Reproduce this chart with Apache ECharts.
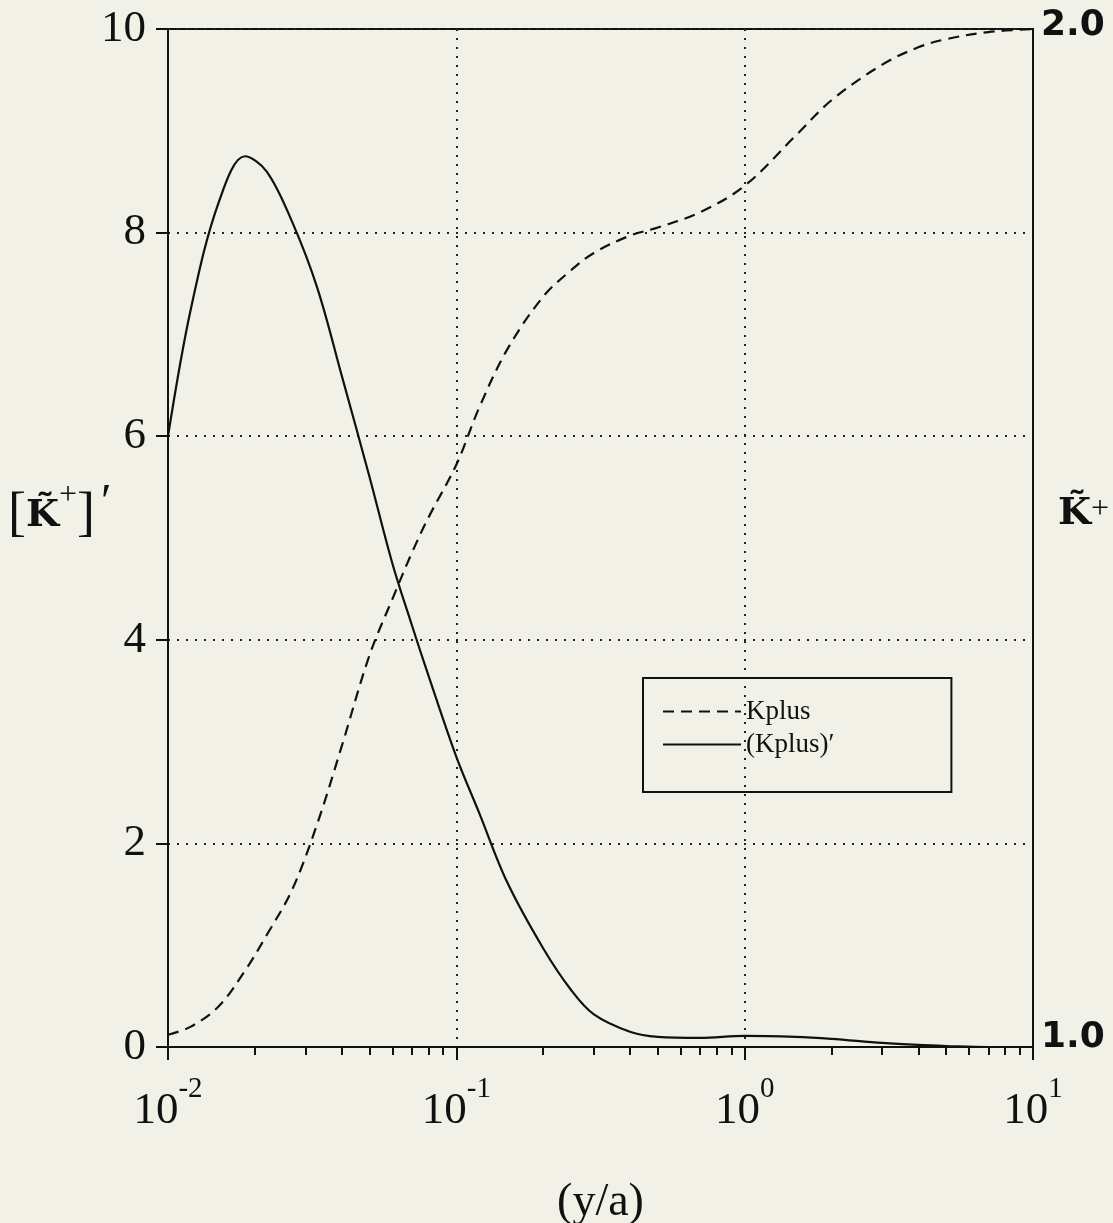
<!DOCTYPE html>
<html>
<head>
<meta charset="utf-8">
<script src="https://cdn.jsdelivr.net/npm/echarts@6/dist/echarts.min.js"></script>
<style>
html,body{margin:0;padding:0;background:#f2f1e7;}
#chart{width:1113px;height:1223px;}
</style>
</head>
<body>
<div id="chart"></div>
<script>
// x positions (y/a)
const xValues = [0.01, 0.012, 0.015, 0.0185, 0.022, 0.027, 0.033, 0.04, 0.05, 0.06, 0.07, 0.08, 0.1, 0.12, 0.15, 0.2, 0.25, 0.3, 0.4, 0.5, 0.7, 1, 1.5, 2, 3, 4, 5, 7, 10];
// (Kplus)' on left axis
const kplusPrime = [6.0, 7.25, 8.3, 8.75, 8.6, 8.1, 7.45, 6.6, 5.6, 4.75, 4.15, 3.65, 2.85, 2.3, 1.62, 0.97, 0.56, 0.32, 0.15, 0.1, 0.09, 0.11, 0.1, 0.08, 0.04, 0.02, 0.01, 0.0, 0.0];
// Kplus on right axis
const kplus = [1.012, 1.02, 1.04, 1.075, 1.11, 1.155, 1.22, 1.295, 1.385, 1.44, 1.485, 1.52, 1.572, 1.628, 1.685, 1.737, 1.763, 1.78, 1.797, 1.805, 1.82, 1.846, 1.895, 1.93, 1.965, 1.982, 1.99, 1.997, 2.0];
const xMajorTicks = [0.01, 0.1, 1, 10];
const xTickExponents = ['-2', '-1', '0', '1'];
const xMinorTicks = [0.02,0.03,0.04,0.05,0.06,0.07,0.08,0.09,0.2,0.3,0.4,0.5,0.6,0.7,0.8,0.9,2,3,4,5,6,7,8,9];
const leftTicks = [0, 2, 4, 6, 8, 10];
const rightTicks = ['1.0', '2.0'];

const chart = echarts.init(document.getElementById('chart'));
const serif = 'Liberation Serif';
const dotted = {color: '#222', width: 2, type: [2, 7]};

chart.setOption({
  backgroundColor: '#f2f1e7',
  animation: false,
  grid: {left: 168, right: 80, top: 29, bottom: 176, show: true, borderColor: '#111', borderWidth: 2,
    backgroundColor: 'transparent', containLabel: false, outerBoundsMode: 'none'},
  legend: {
    orient: 'vertical', left: 643, top: 678,
    padding: [20, 117, 34, 19], itemGap: 6,
    itemWidth: 78, itemHeight: 14,
    borderColor: '#111', borderWidth: 2,
    itemStyle: {opacity: 0},
    textStyle: {fontFamily: serif, fontSize: 27, color: '#111'},
    data: ['Kplus', '(Kplus)′']
  },
  xAxis: [{
    type: 'log', logBase: 10, min: 0.01, max: 10,
    name: '(y/a)', nameLocation: 'middle', nameGap: 133,
    nameTextStyle: {fontFamily: serif, fontSize: 46, color: '#111'},
    axisLine: {lineStyle: {color: '#111', width: 2}},
    axisTick: {show: true, inside: false, length: 13, lineStyle: {color: '#111', width: 2}},
    splitLine: {show: true, lineStyle: dotted},
    axisLabel: {
      margin: 28,
      formatter: function (v) {
        const i = xMajorTicks.findIndex(t => Math.abs(Math.log10(t) - Math.log10(v)) < 1e-6);
        return '{b|10}{s|' + (i >= 0 ? xTickExponents[i] : '') + '}';
      },
      rich: {
        b: {fontFamily: serif, fontSize: 45, color: '#111', verticalAlign: 'bottom', padding: [14, 0, 0, 0]},
        s: {fontFamily: serif, fontSize: 29, color: '#111', verticalAlign: 'top', padding: [0, 0, 16, 0]}
      }
    }
  }, {
    type: 'log', logBase: 10, min: 0.01, max: 10, position: 'bottom',
    axisLine: {show: false},
    axisTick: {show: true, inside: false, length: 8, customValues: xMinorTicks, lineStyle: {color: '#111', width: 2}},
    axisLabel: {show: false},
    splitLine: {show: false}
  }],
  yAxis: [{
    type: 'value', min: 0, max: 10, interval: 2, position: 'left',
    axisLine: {show: true, lineStyle: {color: '#111', width: 2}},
    axisTick: {show: true, inside: false, length: 12, lineStyle: {color: '#111', width: 2}},
    splitLine: {show: true, lineStyle: dotted},
    axisLabel: {margin: 22, fontFamily: serif, fontSize: 45, color: '#111',
      formatter: v => leftTicks.includes(v) ? String(v) : ''}
  }, {
    type: 'value', min: 1, max: 2, interval: 1, position: 'right',
    axisLine: {show: true, lineStyle: {color: '#111', width: 2}},
    axisTick: {show: false},
    splitLine: {show: false},
    axisLabel: {margin: 8,
      formatter: v => (v === 1 ? '{lo|' + rightTicks[0] + '}' : v === 2 ? '{hi|' + rightTicks[1] + '}' : ''),
      rich: {
        lo: {fontFamily: 'DejaVu Sans', fontWeight: 'bold', fontSize: 36, color: '#111', padding: [0, 0, 18, 0]},
        hi: {fontFamily: 'DejaVu Sans', fontWeight: 'bold', fontSize: 36, color: '#111', padding: [0, 0, 6, 0]}
      }}
  }],
  graphic: [{
    type: 'text', left: 8, top: 480,
    style: {
      text: '{br|[}{k|K̃}{p|+}{br|]}{pr|′}',
      rich: {
        br: {fontFamily: serif, fontSize: 54, fill: '#111'},
        k: {fontFamily: 'DejaVu Serif', fontWeight: 'bold', fontSize: 38, fill: '#111'},
        p: {fontFamily: serif, fontSize: 32, fill: '#111', verticalAlign: 'top', padding: [0, 0, 8, 0]},
        pr: {fontFamily: serif, fontSize: 48, fill: '#111', verticalAlign: 'top', padding: [0, 0, 24, 6]}
      }
    }
  }, {
    type: 'text', left: 1058, top: 494,
    style: {
      text: '{k|K̃}{p|+}',
      rich: {
        k: {fontFamily: 'DejaVu Serif', fontWeight: 'bold', fontSize: 38, fill: '#111'},
        p: {fontFamily: serif, fontSize: 32, fill: '#111', verticalAlign: 'top', padding: [0, 0, 8, 0]}
      }
    }
  }],
  series: [{
    name: 'Kplus', type: 'line', xAxisIndex: 0, yAxisIndex: 1,
    data: xValues.map((x, i) => [x, kplus[i]]),
    showSymbol: false, symbol: 'none', smooth: 0.35,
    lineStyle: {color: '#111', width: 2.2, type: [11, 7]},
    itemStyle: {color: '#111'}
  }, {
    name: '(Kplus)′', type: 'line', xAxisIndex: 0, yAxisIndex: 0,
    data: xValues.map((x, i) => [x, kplusPrime[i]]),
    showSymbol: false, symbol: 'none', smooth: 0.35,
    lineStyle: {color: '#111', width: 2.2},
    itemStyle: {color: '#111'}
  }]
});
</script>
</body>
</html>
